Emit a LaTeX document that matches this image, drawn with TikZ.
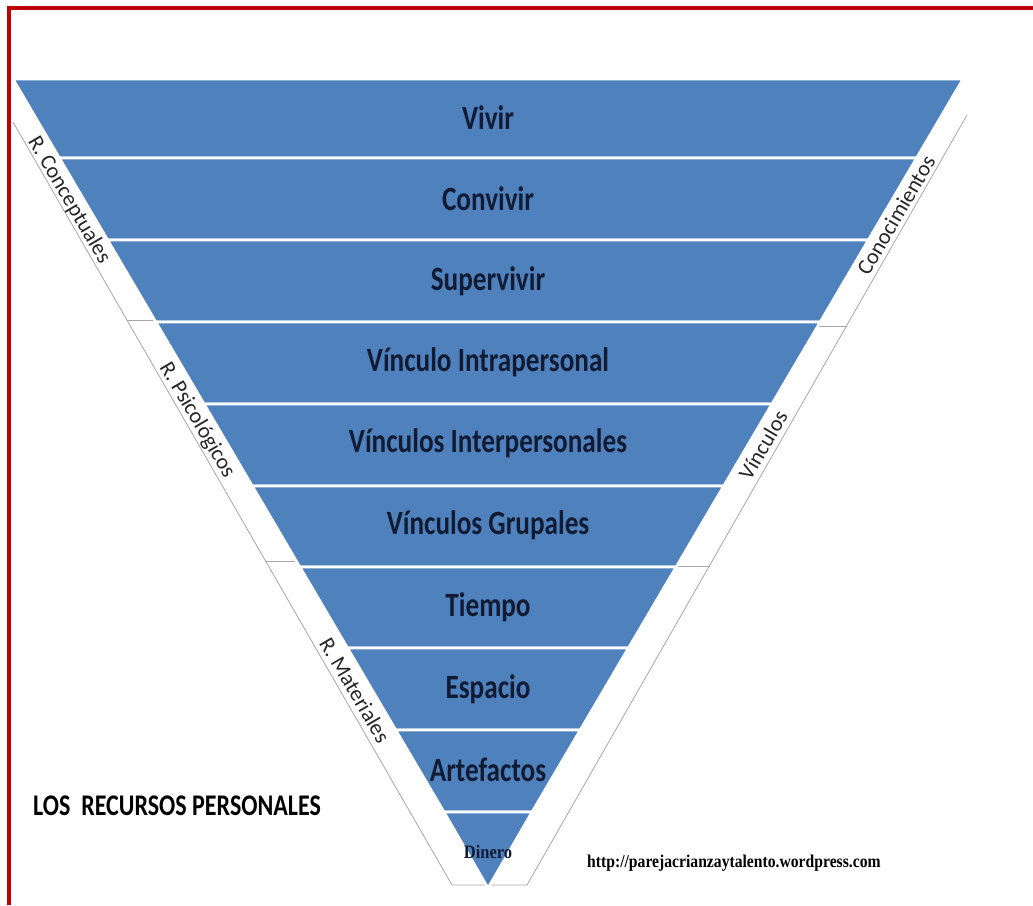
\documentclass[tikz,border=0pt]{standalone}
\usepackage{fontspec}
\setmainfont{Carlito}
\newfontfamily\bandfont[FakeStretch=0.8]{Carlito}
\newfontfamily\sidefont{Carlito}
\newfontfamily\titlefont[FakeStretch=0.8]{Carlito}
\newfontfamily\urlfont[FakeStretch=0.87]{Liberation Serif}
\definecolor{bandblue}{HTML}{4F81BD}
\definecolor{navytext}{HTML}{111B33}
\definecolor{framered}{HTML}{C00000}
\definecolor{stripgray}{HTML}{A6A6A6}
\begin{document}
\begin{tikzpicture}[x=1pt,y=-1pt,
  band/.style={fill=bandblue,draw=white,line width=2.6pt,line join=round},
  bandlabel/.style={font={\fontsize{34}{36}\selectfont\bandfont\bfseries},text=navytext,inner sep=0pt},
  sidelabel/.style={font={\fontsize{22}{24}\selectfont\sidefont},text=black!85,inner sep=0pt},
  stripline/.style={draw=stripgray,line width=0.8pt},
  frame/.style={draw=framered,line width=4pt}]
\useasboundingbox (0,0) rectangle (1033,905);
% red frame
\draw[frame] (9,905) -- (9,8) -- (1033,8);
% side strips
\coordinate (lo1) at (13,122);
\coordinate (lo2) at (452,885);
\coordinate (ro1) at (967,115);
\coordinate (ro2) at (527,885);
\draw[stripline] (lo1) -- (lo2) -- (ro2) -- (ro1);
\draw[stripline] (126.7,320) -- (156,320);
\draw[stripline] (265,561) -- (297,561);
\draw[stripline] (817,326) -- (846.5,326);
\draw[stripline] (676,566) -- (709.5,566);
% bands
\foreach \a/\b in {79/158,158/240,240/322,322/404,404/486,486/567,567/648,648/730,730/812}
  \draw[band] ({13+0.588*(\a-79)},\a) -- ({963-0.588*(\a-79)},\a) -- ({963-0.588*(\b-79)},\b) -- ({13+0.588*(\b-79)},\b) -- cycle;
\draw[band] ({13+0.588*(812-79)},812) -- ({963-0.588*(812-79)},812) -- (488,888) -- cycle;
% band labels
\node[bandlabel] (vivir) at (488,118) {Vivir};
\node[bandlabel] (convivir) at (488,199) {Convivir};
\node[bandlabel] (supervivir) at (488,281) {Supervivir};
\node[bandlabel] (intra) at (488,362) {Vínculo Intrapersonal};
\node[bandlabel] (inter) at (488,443) {Vínculos Interpersonales};
\node[bandlabel] (grup) at (488,525) {Vínculos Grupales};
\node[bandlabel] (tiempo) at (488,607) {Tiempo};
\node[bandlabel] (espacio) at (488,689) {Espacio};
\node[bandlabel] (artef) at (488,770) {Artefactos};
\node[font={\fontsize{19}{21}\selectfont\urlfont\bfseries},text=navytext,inner sep=0pt] (dinero) at (488,852) {Dinero};
% side labels
\node[sidelabel,rotate=-59.5] (rconc) at (69,200) {R. Conceptuales};
\node[sidelabel,rotate=-59.5] (rpsic) at (197,420) {R. Psicológicos};
\node[sidelabel,rotate=-59.5] (rmat) at (355,690) {R. Materiales};
\node[sidelabel,rotate=59.5] (conoc) at (896,215) {Conocimientos};
\node[sidelabel,rotate=59.5] (vinc) at (763,445) {Vínculos};
% captions
\node[anchor=west,inner sep=0pt,font={\fontsize{30}{32}\selectfont\titlefont\bfseries}] (title) at (33,806) {LOS\ \ RECURSOS PERSONALES};
\node[anchor=west,inner sep=0pt,font={\fontsize{18}{20}\selectfont\urlfont\bfseries}] (url) at (587,863) {http://parejacrianzaytalento.wordpress.com};
\end{tikzpicture}
\end{document}
